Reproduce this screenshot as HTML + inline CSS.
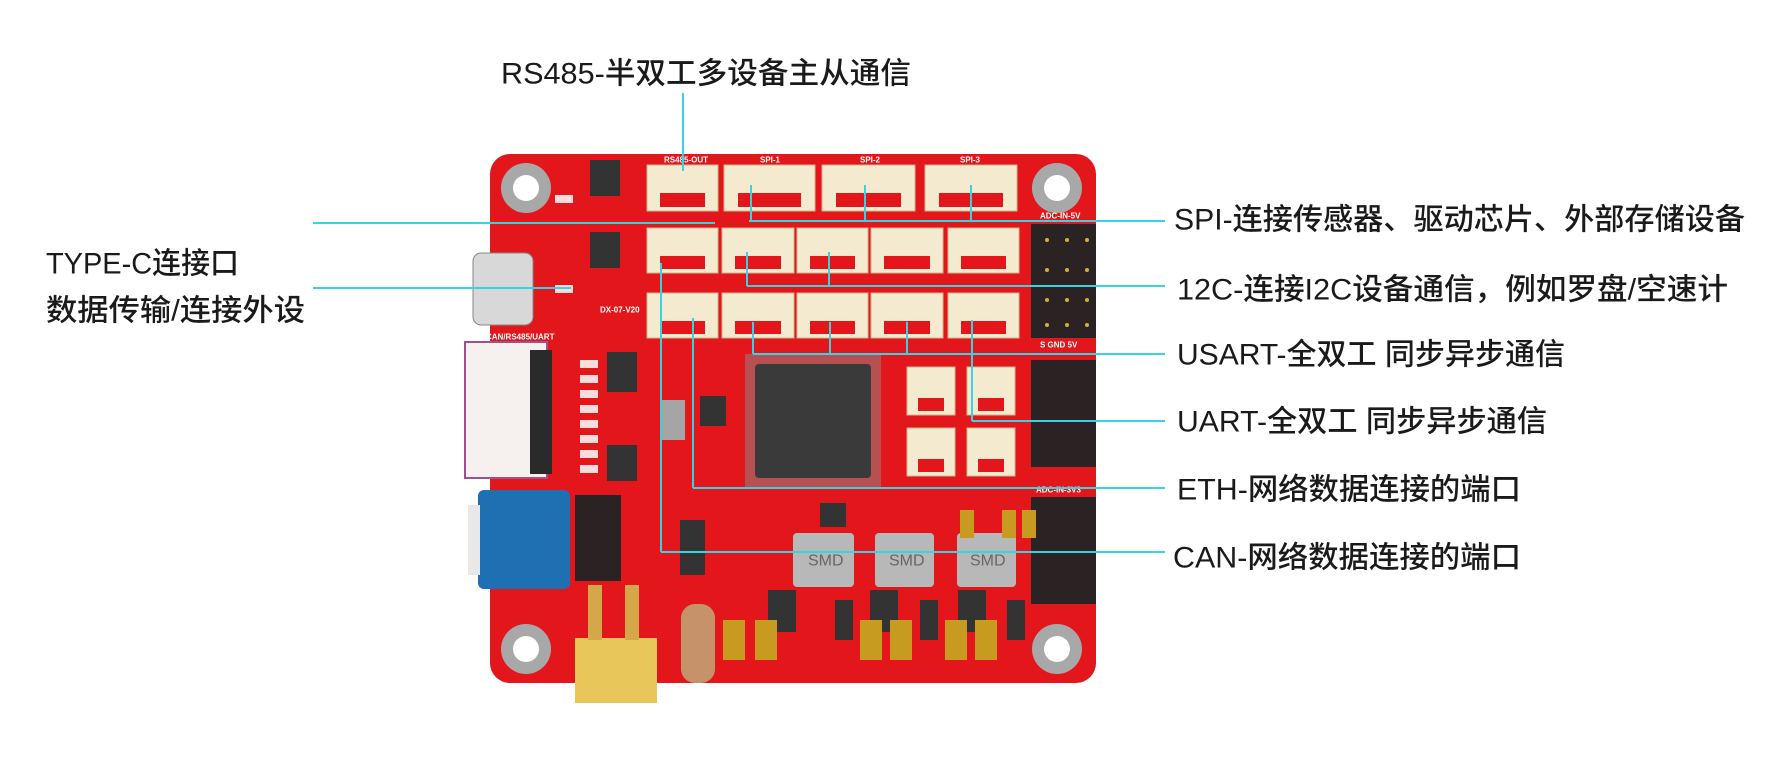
<!DOCTYPE html>
<html><head><meta charset="utf-8"><style>
html,body{margin:0;padding:0;background:#fff;}
svg{display:block}
text{font-family:"Liberation Sans","Noto Sans CJK SC",sans-serif;font-size:30px;fill:#1a1a1a;font-weight:500;dominant-baseline:central}
.s{font-size:8px;fill:#fff;font-weight:700}
.m{font-size:16px;fill:#666;font-weight:400}
</style></head><body>
<svg width="1782" height="783" viewBox="0 0 1782 783" xmlns="http://www.w3.org/2000/svg">
<rect x="490" y="154" width="606" height="529" rx="20" fill="#e3161c"/>
<g fill="#a8a8a8"><circle cx="526" cy="188" r="25"/><circle cx="1057" cy="188" r="25"/><circle cx="526" cy="649" r="25"/><circle cx="1057" cy="649" r="25"/></g>
<g fill="#fff"><circle cx="526" cy="188" r="13"/><circle cx="1057" cy="188" r="13"/><circle cx="526" cy="649" r="13"/><circle cx="1057" cy="649" r="13"/></g>
<g fill="#f3ead0" stroke="#c9b98e" stroke-width="1">
<rect x="647" y="165" width="71" height="46"/><rect x="724" y="165" width="91" height="46"/><rect x="822" y="165" width="93" height="46"/><rect x="925" y="165" width="92" height="46"/>
<rect x="647" y="228" width="71" height="45"/><rect x="722" y="228" width="72" height="45"/><rect x="797" y="228" width="71" height="45"/><rect x="871" y="228" width="72" height="45"/><rect x="948" y="228" width="71" height="45"/>
<rect x="647" y="293" width="71" height="45"/><rect x="722" y="293" width="72" height="45"/><rect x="797" y="293" width="71" height="45"/><rect x="871" y="293" width="72" height="45"/><rect x="948" y="293" width="71" height="45"/>
<rect x="907" y="367" width="48" height="48"/><rect x="967" y="367" width="48" height="48"/><rect x="907" y="428" width="48" height="48"/><rect x="967" y="428" width="48" height="48"/>
</g>
<g fill="#e3161c">
<rect x="660" y="193" width="45" height="14"/><rect x="738" y="193" width="63" height="14"/><rect x="836" y="193" width="65" height="14"/><rect x="939" y="193" width="64" height="14"/>
<rect x="660" y="256" width="45" height="13"/><rect x="735" y="256" width="46" height="13"/><rect x="810" y="256" width="45" height="13"/><rect x="884" y="256" width="46" height="13"/><rect x="961" y="256" width="45" height="13"/>
<rect x="660" y="321" width="45" height="13"/><rect x="735" y="321" width="46" height="13"/><rect x="810" y="321" width="45" height="13"/><rect x="884" y="321" width="46" height="13"/><rect x="961" y="321" width="45" height="13"/>
<rect x="918" y="398" width="26" height="13"/><rect x="978" y="398" width="26" height="13"/><rect x="918" y="459" width="26" height="13"/><rect x="978" y="459" width="26" height="13"/>
</g>
<g fill="#2b2323"><rect x="1031" y="224" width="65" height="114"/><rect x="1031" y="360" width="65" height="107"/><rect x="1031" y="497" width="65" height="107"/>
<rect x="575" y="495" width="46" height="86"/></g>
<g fill="#d4b030"><circle cx="1047" cy="240" r="2"/><circle cx="1067" cy="240" r="2"/><circle cx="1087" cy="240" r="2"/><circle cx="1047" cy="270" r="2"/><circle cx="1067" cy="270" r="2"/><circle cx="1087" cy="270" r="2"/><circle cx="1047" cy="300" r="2"/><circle cx="1067" cy="300" r="2"/><circle cx="1087" cy="300" r="2"/><circle cx="1047" cy="325" r="2"/><circle cx="1067" cy="325" r="2"/><circle cx="1087" cy="325" r="2"/></g>
<rect x="745" y="354" width="136" height="134" fill="#8a8a8a" opacity="0.5"/>
<rect x="755" y="364" width="116" height="114" rx="4" fill="#3a3a3a"/>
<g fill="#333"><rect x="590" y="160" width="30" height="36"/><rect x="590" y="232" width="30" height="36"/><rect x="607" y="352" width="30" height="40"/><rect x="607" y="445" width="30" height="36"/><rect x="680" y="520" width="25" height="55"/><rect x="768" y="590" width="28" height="42"/><rect x="870" y="590" width="28" height="42"/><rect x="958" y="590" width="28" height="42"/><rect x="820" y="503" width="26" height="24"/><rect x="700" y="396" width="26" height="30"/><rect x="835" y="600" width="18" height="40"/><rect x="920" y="600" width="18" height="40"/><rect x="1007" y="600" width="18" height="40"/></g>
<g fill="#b8b8b8"><rect x="793" y="533" width="61" height="54" rx="4"/><rect x="875" y="533" width="59" height="54" rx="4"/><rect x="957" y="533" width="59" height="54" rx="4"/></g>
<text class="m" x="808" y="561">SMD</text><text class="m" x="889" y="561">SMD</text><text class="m" x="970" y="561">SMD</text>
<rect x="661" y="400" width="24" height="40" fill="#a5a5a5"/>
<g fill="#c79a20"><rect x="723" y="620" width="22" height="40"/><rect x="755" y="620" width="22" height="40"/><rect x="860" y="620" width="22" height="40"/><rect x="890" y="620" width="22" height="40"/><rect x="945" y="620" width="22" height="40"/><rect x="975" y="620" width="22" height="40"/><rect x="1002" y="510" width="14" height="28"/><rect x="1022" y="510" width="14" height="28"/><rect x="960" y="510" width="14" height="28"/></g>
<g fill="#fff" opacity="0.85"><rect x="580" y="360" width="18" height="8"/><rect x="580" y="375" width="18" height="8"/><rect x="580" y="390" width="18" height="8"/><rect x="580" y="405" width="18" height="8"/><rect x="580" y="420" width="18" height="8"/><rect x="580" y="435" width="18" height="8"/><rect x="580" y="450" width="18" height="8"/><rect x="580" y="465" width="18" height="8"/><rect x="555" y="195" width="18" height="8"/><rect x="555" y="285" width="18" height="8"/></g>
<rect x="473" y="253" width="60" height="72" rx="8" fill="#d8d8d8" stroke="#888"/>
<rect x="465" y="342" width="82" height="136" fill="#f6f0ee" stroke="#a0508a" stroke-width="2"/>
<rect x="530" y="350" width="22" height="124" fill="#2a2a2a"/>
<rect x="478" y="490" width="92" height="99" rx="6" fill="#1f6fb3"/>
<rect x="468" y="505" width="12" height="70" fill="#e8e8e8"/>
<rect x="575" y="638" width="82" height="65" fill="#e8c65a"/>
<rect x="588" y="585" width="14" height="55" fill="#d4a84a"/><rect x="625" y="585" width="14" height="55" fill="#d4a84a"/>
<rect x="681" y="604" width="34" height="79" rx="14" fill="#c6926a"/>
<text class="s" x="664" y="160">RS485-OUT</text><text class="s" x="760" y="160">SPI-1</text><text class="s" x="860" y="160">SPI-2</text><text class="s" x="960" y="160">SPI-3</text>
<text class="s" x="1040" y="216">ADC-IN-5V</text><text class="s" x="1040" y="345">S GND 5V</text><text class="s" x="1036" y="490">ADC-IN-3V3</text>
<text class="s" x="600" y="310">DX-07-V20</text><text class="s" x="486" y="337">CAN/RS485/UART</text>
<g stroke="#35d3e4" stroke-width="2" fill="none">
<path d="M683 93V171"/>
<path d="M313 223H715"/>
<path d="M1165 221H749M751 185V221M865 185V221M971 185V221"/>
<path d="M313 288H571"/>
<path d="M1165 286H747M747 252V286M829 252V286"/>
<path d="M1165 354H753M753 322V354M830 322V354M907 322V354"/>
<path d="M1165 421H972M972 320V421"/>
<path d="M1165 488H693M693 318V488"/>
<path d="M1165 552H661M661 263V552"/>
</g>
<text x="501" y="74" textLength="410" lengthAdjust="spacingAndGlyphs">RS485-半双工多设备主从通信</text>
<text x="1174" y="220" textLength="571" lengthAdjust="spacingAndGlyphs">SPI-连接传感器、驱动芯片、外部存储设备</text>
<text x="1177" y="290" textLength="551" lengthAdjust="spacingAndGlyphs">12C-连接I2C设备通信，例如罗盘/空速计</text>
<text x="1177" y="355" textLength="388" lengthAdjust="spacingAndGlyphs">USART-全双工 同步异步通信</text>
<text x="1177" y="422" textLength="370" lengthAdjust="spacingAndGlyphs">UART-全双工 同步异步通信</text>
<text x="1177" y="490" textLength="344" lengthAdjust="spacingAndGlyphs">ETH-网络数据连接的端口</text>
<text x="1173" y="558" textLength="348" lengthAdjust="spacingAndGlyphs">CAN-网络数据连接的端口</text>
<text x="46" y="264" textLength="193" lengthAdjust="spacingAndGlyphs">TYPE-C连接口</text>
<text x="46" y="311" textLength="259" lengthAdjust="spacingAndGlyphs">数据传输/连接外设</text>
</svg>
</body></html>
